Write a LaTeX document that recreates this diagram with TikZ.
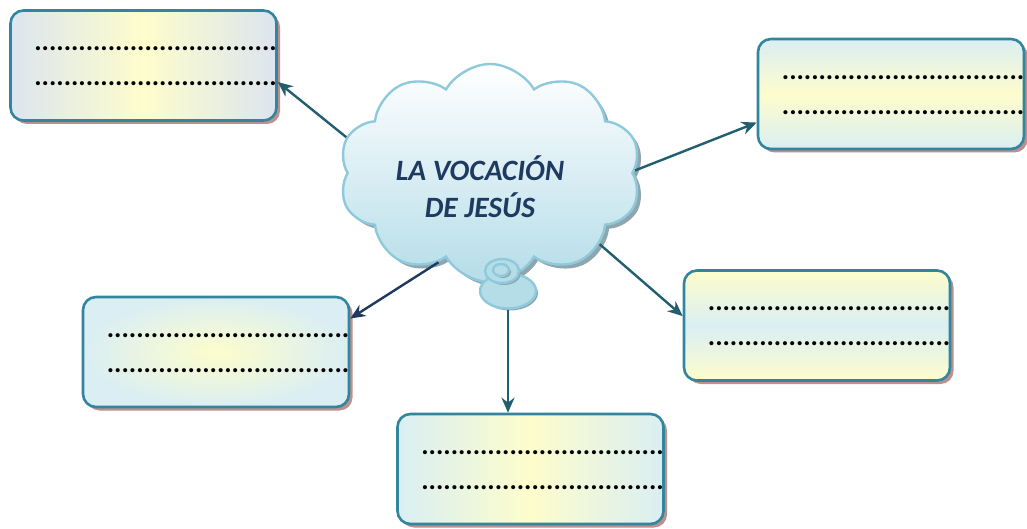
\documentclass[tikz,border=0pt]{standalone}
\usepackage{fontspec}
\setmainfont{Carlito}
\usetikzlibrary{shapes.symbols,shapes.geometric,shadows,arrows.meta}

\definecolor{borde}{HTML}{31859C}
\definecolor{sombra}{HTML}{BE8F8F}
\definecolor{amarillo}{HTML}{FDFDCC}
\definecolor{celeste}{HTML}{DAEEF3}
\definecolor{grisazul}{HTML}{DCE5EF}
\definecolor{nubeazul}{HTML}{B5DDE8}
\definecolor{nubeborde}{HTML}{8FCADC}
\definecolor{nubesombra}{HTML}{8FA6AE}
\definecolor{flechac}{HTML}{215E6E}
\definecolor{marino}{HTML}{1F3A60}

\newcommand{\puntos}{.................................}

\begin{document}
\begin{tikzpicture}[x=1pt, y=-1pt,
    caja/.style={draw=borde, line width=2.6pt, rounded corners=13pt,
        minimum width=266pt, minimum height=110pt,
        drop shadow={shadow xshift=3.5pt, shadow yshift=-3.5pt, fill=sombra, opacity=1}},
    puntos/.style={anchor=west, align=left, inner sep=0pt,
        font=\fontsize{27.5}{35}\selectfont\bfseries},
    burbuja/.style={ellipse, draw=nubeborde, line width=2.4pt, fill=nubeazul,
        inner sep=0pt,
        drop shadow={shadow xshift=2pt, shadow yshift=-2pt, fill=nubesombra, opacity=1}},
    flecha/.style={draw=flechac, line width=2.4pt, -{Stealth[length=15pt, width=13pt]}}]
    \useasboundingbox (0, 0) rectangle (1027, 529);

    % Cloud
    \node[cloud, cloud puffs=10, cloud puff arc=120, aspect=1.4,
        minimum width=302pt, minimum height=218pt,
        draw=nubeborde, line width=2.4pt, top color=white, bottom color=nubeazul,
        drop shadow={shadow xshift=4pt, shadow yshift=-4pt, fill=nubesombra, opacity=1}]
        (nube) at (490, 173) {};
    \node[burbuja, minimum width=56pt, minimum height=35pt] (bur1) at (508, 291) {};
    \node[burbuja, minimum width=34pt, minimum height=24pt] (bur2) at (502, 271) {};
    \node[burbuja, minimum width=16pt, minimum height=12pt] (bur3) at (501, 270) {};
    \node[font=\fontsize{29.5}{37}\selectfont\bfseries\itshape, text=marino, align=center]
        (titulo) at (480, 187) {LA VOCACIÓN\\DE JESÚS};

    % Boxes
    \node[caja, left color=grisazul, right color=grisazul, middle color=amarillo] (b1) at (143.5, 65.5) {};
    \node[caja, top color=celeste, bottom color=celeste, middle color=amarillo] (b2) at (891, 94) {};
    \node[caja, top color=amarillo, bottom color=amarillo, middle color=celeste] (b3) at (817, 325.5) {};
    \node[caja, inner color=amarillo, outer color=celeste] (b4) at (216, 352) {};
    \node[caja, left color=celeste, right color=celeste, middle color=amarillo] (b5) at (530.5, 469) {};

    % Dots
    \node[puntos] (p1) at ([xshift=25pt, yshift=-1pt]b1.west) {\puntos\\\puntos};
    \node[puntos] (p2) at ([xshift=25pt, yshift=-1pt]b2.west) {\puntos\\\puntos};
    \node[puntos] (p3) at ([xshift=25pt, yshift=-1pt]b3.west) {\puntos\\\puntos};
    \node[puntos] (p4) at ([xshift=25pt, yshift=-1pt]b4.west) {\puntos\\\puntos};
    \node[puntos] (p5) at ([xshift=25pt, yshift=-1pt]b5.west) {\puntos\\\puntos};

    % Arrows
    \draw[flecha] (nube.166) -- (b1.-7);
    \draw[flecha] (nube.1) -- (b2.-168);
    \draw[flecha] (nube.-33) -- (b3.176);
    \draw[flecha, draw=marino] (nube.-120) -- (b4.14);
    \draw[flecha] (bur1.south) -- (bur1.south |- b5.north);
\end{tikzpicture}
\end{document}
